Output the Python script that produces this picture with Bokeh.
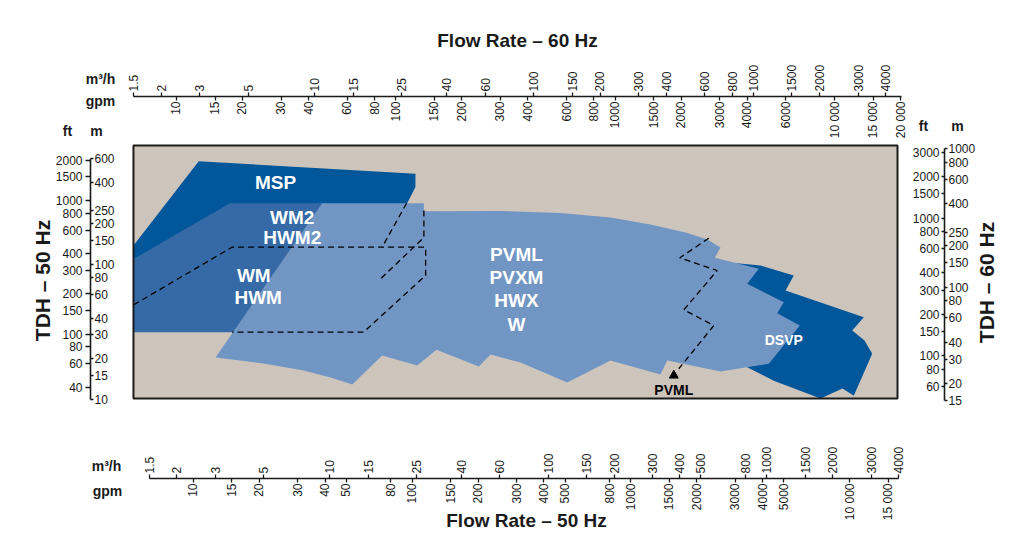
import math
from bokeh.plotting import figure
from bokeh.models import (LogAxis, FixedTicker, Range1d, LogScale,
                          CustomJSTickFormatter, Label)
from bokeh.core.properties import value
from bokeh.embed import file_html
from bokeh.resources import INLINE

FONT = "Liberation Sans"
INK = "#1a1a1a"

# ---------------- tick values (axes) ----------------
flow50_m3h_ticks = [1.5, 2, 3, 5, 10, 15, 25, 40, 60, 100, 150, 200, 300, 400, 500, 800,
                    1000, 1500, 2000, 3000, 4000]
flow50_gpm_ticks = [10, 15, 20, 30, 40, 50, 80, 100, 150, 200, 300, 400, 500, 800, 1000,
                    1500, 2000, 3000, 4000, 5000, 10000, 15000]
flow60_m3h_ticks = [1.5, 2, 3, 5, 10, 15, 25, 40, 60, 100, 150, 200, 300, 400, 600, 800,
                    1000, 1500, 2000, 3000, 4000]
flow60_gpm_ticks = [10, 15, 20, 30, 40, 60, 80, 100, 150, 200, 300, 400, 600, 800, 1000,
                    1500, 2000, 3000, 4000, 6000, 10000, 15000, 20000]
head50_ft_ticks = [40, 60, 80, 100, 150, 200, 300, 400, 600, 800, 1000, 1500, 2000]
head50_m_ticks = [10, 15, 20, 30, 40, 60, 80, 100, 150, 200, 250, 400, 600]
head60_ft_ticks = [60, 80, 100, 150, 200, 300, 400, 600, 800, 1000, 1500, 2000, 3000]
head60_m_ticks = [15, 20, 30, 40, 60, 80, 100, 150, 200, 250, 400, 600, 800, 1000]

# ---------------- chart area (flow m3/h @50 Hz, head m @50 Hz) ----------------
area_flow = [1.267, 3962]
area_head = [10.2, 750]

msp_flow = [1.267, 2.52, 24.7, 24.7, 22.5, 3.5, 1.267]
msp_head = [137, 575, 464, 370, 275, 275, 106]

wm_flow = [1.267, 3.5, 9.6, 3.75, 1.267]
wm_head = [109, 281.5, 281.5, 31.4, 31.4]

dsvp_flow = [732, 936, 1329, 1218, 2778, 2459, 2800, 3035, 2500, 2220, 1761, 1076, 813.6, 658.8]
dsvp_head = [101.6, 97.7, 82.4, 63.9, 40.6, 32.4, 27.3, 21.8, 10.7, 12.1, 10.2, 13.8, 17.35, 20.56]

pv_flow = [9.25, 27.0, 27.0, 60.5, 113.8, 192.8, 293.8, 424.9, 535.5, 614.2, 578.3, 919.2,
           813.6, 1196, 1116, 1416, 1021, 614.2, 350.3, 326.3, 192.8, 122.2, 74.68, 54.46,
           48.15, 30.83, 25.16, 17.40, 12.69, 10.10, 7.6, 4.985, 3.006]
pv_head = [281.5, 281.5, 245.8, 246.6, 238.4, 220.8, 196.1, 171.1, 151.9, 132.6, 111.3, 92.35,
           71.56, 52.35, 43.42, 35.23, 18.38, 16.12, 19.44, 15.32, 19.44, 13.38, 18.78, 21.52,
           17.55, 23.32, 17.85, 21.16, 12.93, 14.57, 16.40, 18.47, 20.46]

wm_dash_flow = [1.27, 3.58, 27.5, 27.5, 14.3, 3.58]
wm_dash_head = [50.1, 133.3, 133.3, 82.4, 31.45, 31.45]
wm2_dash1_flow = [22.5, 17.4]
wm2_dash1_head = [281.5, 133.3]
wm2_dash2_flow = [27.0, 27.0, 16.8]
wm2_dash2_head = [248.7, 157.2, 75.7]
pvml_dash_flow = [542.9, 400, 593.2, 417.3, 572.3, 395.8]
pvml_dash_head = [155.3, 111.3, 89.7, 46.0, 35.2, 16.9]

big_names = ["MSP", "WM2", "HWM2", "WM", "HWM", "PVML", "PVXM", "HWX", "W"]
big_flow = [5.655, 6.744, 6.744, 4.501, 4.714, 71.6, 71.6, 71.6, 71.6]
big_head = [402.2, 221.9, 157.9, 82.38, 57.0, 117.7, 79.64, 53.87, 35.84]
small_names = ["DSVP"]
small_flow = [1196]
small_head = [27.63]
pvml_mark_flow = [375.5]
pvml_mark_head = [15.07]
pvml_note_head = [11.68]

# ---------------- colours ----------------
C_AREA = "#cdc5bb"
C_DARK = "#02569a"
C_MED = "#356aa6"
C_LIGHT = "#7296c4"

# frame covers the whole canvas; every axis is pinned with fixed_location
p = figure(x_range=Range1d(0.31226, 11601), y_range=Range1d(1.0633, 8819),
           x_axis_type="log", y_axis_type="log",
           x_axis_location=None, y_axis_location=None,
           frame_width=999, frame_height=531, min_border=0,
           output_backend="svg", toolbar_location=None)
p.outline_line_color = None
p.background_fill_color = "white"
p.border_fill_color = "white"
p.grid.visible = False

p.extra_x_ranges = {"q60": Range1d(0.37028, 13239), "g60": Range1d(1.577, 56490),
                    "g50": Range1d(1.3125, 48391)}
p.extra_x_scales = {"q60": LogScale(), "g60": LogScale(), "g50": LogScale()}
p.extra_y_ranges = {"ft50": Range1d(3.3252, 31359), "m60": Range1d(1.7030, 11843),
                    "ft60": Range1d(5.319, 37951)}
p.extra_y_scales = {"ft50": LogScale(), "m60": LogScale(), "ft60": LogScale()}

X_LEFT, X_RIGHT = 0.8057, 6501      # flow positions of the two vertical axis lines
Y_TOP, Y_BOTTOM = 1725.7, 2.6168    # head positions of the two horizontal axis lines

fmt = CustomJSTickFormatter(code="""
const s = String(tick);
if (tick >= 10000) { return s.slice(0, s.length - 3) + ' ' + s.slice(s.length - 3); }
return s;
""")


def mk_axis(ticks, tick_out, standoff, line=True, **kw):
    ax = LogAxis(ticker=FixedTicker(ticks=ticks, minor_ticks=[]), formatter=fmt, **kw)
    ax.major_label_text_font = FONT
    ax.major_label_text_font_size = "12px"
    ax.major_label_text_color = INK
    ax.axis_line_color = INK if line else None
    ax.axis_line_width = 1.6
    ax.major_tick_line_color = INK
    ax.major_tick_line_width = 1.3
    ax.minor_tick_line_color = None
    ax.major_tick_in = 0
    ax.major_tick_out = tick_out
    ax.major_label_standoff = standoff
    return ax


VERT = math.pi / 2
# left pair (TDH 50 Hz)
p.add_layout(mk_axis(head50_ft_ticks, 5, 3, line=False, y_range_name="ft50",
                     fixed_location=X_LEFT), "left")
p.add_layout(mk_axis(head50_m_ticks, 3, 1, bounds=(10, 600), fixed_location=X_LEFT), "right")
# right pair (TDH 60 Hz)
p.add_layout(mk_axis(head60_m_ticks, 3, 1, y_range_name="m60", bounds=(15, 1000),
                     fixed_location=X_RIGHT), "right")
p.add_layout(mk_axis(head60_ft_ticks, 3, 2, line=False, y_range_name="ft60",
                     fixed_location=X_RIGHT), "left")
# top pair (flow 60 Hz)
p.add_layout(mk_axis(flow60_m3h_ticks, 4, 1, x_range_name="q60", bounds=(1.5, 4718),
                     fixed_location=Y_TOP, major_label_orientation=VERT), "above")
p.add_layout(mk_axis(flow60_gpm_ticks, 4, 1, line=False, x_range_name="g60",
                     fixed_location=Y_TOP, major_label_orientation=VERT), "below")
# bottom pair (flow 50 Hz)
p.add_layout(mk_axis(flow50_gpm_ticks, 4, 1, line=False, x_range_name="g50",
                     fixed_location=Y_BOTTOM, major_label_orientation=VERT), "below")
p.add_layout(mk_axis(flow50_m3h_ticks, 4, 1, bounds=(1.5, 4000), fixed_location=Y_BOTTOM,
                     major_label_orientation=VERT), "above")

# ---------------- chart content ----------------
p.quad(left=[area_flow[0]], right=[area_flow[1]], bottom=[area_head[0]], top=[area_head[1]],
       fill_color=C_AREA, line_color=None)
p.patch(msp_flow, msp_head, fill_color=C_DARK, line_color=None)
p.patch(wm_flow, wm_head, fill_color=C_MED, line_color=None)
p.patch(dsvp_flow, dsvp_head, fill_color=C_DARK, line_color=None)
p.patch(pv_flow, pv_head, fill_color=C_LIGHT, line_color=None)
p.quad(left=[area_flow[0]], right=[area_flow[1]], bottom=[area_head[0]], top=[area_head[1]],
       fill_color=None, line_color=INK, line_width=2)

for fx, hy in [(wm_dash_flow, wm_dash_head), (wm2_dash1_flow, wm2_dash1_head),
               (wm2_dash2_flow, wm2_dash2_head), (pvml_dash_flow, pvml_dash_head)]:
    p.line(fx, hy, line_color="black", line_width=1.3, line_dash="6 4")

p.scatter(pvml_mark_flow, pvml_mark_head, marker="triangle", size=9, color="black")

p.text(x=big_flow, y=big_head, text=big_names, text_font=value(FONT), text_font_style="bold",
       text_font_size="19px", text_color="white", text_align="center", text_baseline="middle")
p.text(x=small_flow, y=small_head, text=small_names, text_font=value(FONT),
       text_font_style="bold", text_font_size="14px", text_color="white",
       text_align="center", text_baseline="middle")
p.text(x=pvml_mark_flow, y=pvml_note_head, text=["PVML"], text_font=value(FONT),
       text_font_style="bold", text_font_size="14px", text_color="black",
       text_align="center", text_baseline="middle")


# ---------------- titles and unit headings (screen units from frame bottom-left) ----------------
def lab(text, x, y, size, angle=0.0):
    p.add_layout(Label(x=x, y=y, x_units="screen", y_units="screen", text=text,
                       text_font=FONT, text_font_style="bold", text_font_size=size,
                       text_color=INK, text_align="center", text_baseline="middle",
                       angle=angle))


lab("Flow Rate – 60 Hz", 517, 491, "19px")
lab("Flow Rate – 50 Hz", 526, 11, "19px")
lab("TDH – 50 Hz", 42, 251, "21px", VERT)
lab("TDH – 60 Hz", 986, 249, "21px", VERT)
lab("m³/h", 100, 453, "14px")
lab("gpm", 100, 431, "14px")
lab("m³/h", 106, 66, "14px")
lab("gpm", 107, 41, "14px")
lab("ft", 67, 401, "14px")
lab("m", 96, 401, "14px")
lab("ft", 923, 406, "14px")
lab("m", 957, 406, "14px")

open("out.html", "w").write(file_html(p, INLINE))
